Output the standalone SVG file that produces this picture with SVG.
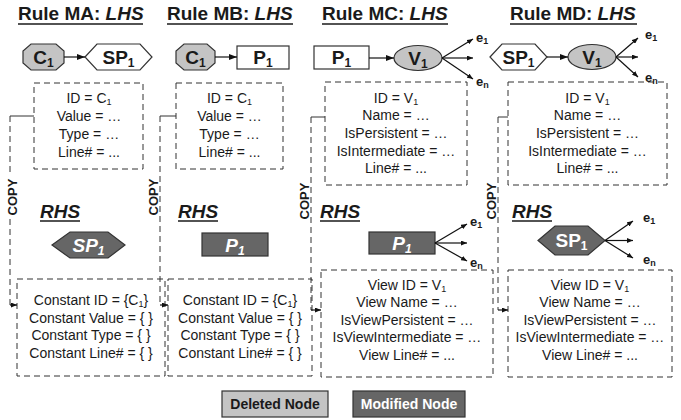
<svg xmlns="http://www.w3.org/2000/svg" width="681" height="420" viewBox="0 0 681 420">
  <style>
    text { font-family: "Liberation Sans", Arial, sans-serif; fill: #1a1a1a; }
    .title { font-size: 19px; font-weight: bold; }
    .rhs { font-size: 19px; font-weight: bold; font-style: italic; }
    .ul { stroke: #1a1a1a; stroke-width: 1.5; }
    .lbl { font-size: 19px; font-weight: bold; text-anchor: middle; }
    .lbl-w { font-size: 19px; font-weight: bold; text-anchor: middle; fill: #ffffff; }
    .attr { font-size: 14px; text-anchor: middle; }
    .edge-lbl { font-size: 13px; font-weight: bold; }
    .copy { font-size: 13px; font-weight: bold; text-anchor: middle; }
    .box { fill: none; stroke: #333; stroke-width: 1; stroke-dasharray: 6 4; }
    .deleted { fill: #c4c4c4; stroke: #333; stroke-width: 1.2; }
    .modified { fill: #666666; stroke: #333; stroke-width: 1.2; }
    .plain { fill: #ffffff; stroke: #333; stroke-width: 1.2; }
    .edge { fill: none; stroke: #111; stroke-width: 1.2; }
    .dash { fill: none; stroke: #333; stroke-width: 1; stroke-dasharray: 6 4; }
    .solid { fill: none; stroke: #333; stroke-width: 1; }
    .legend { font-size: 14px; font-weight: bold; text-anchor: middle; }
  </style>
  <defs>
    <marker id="ah" viewBox="0 0 8 6" refX="8" refY="3" markerWidth="8" markerHeight="6" orient="auto" markerUnits="userSpaceOnUse">
      <path d="M0,0 L8,3 L0,6 z" fill="#111"/>
    </marker>
    <marker id="ahs" viewBox="0 0 6 5" refX="6" refY="2.5" markerWidth="6" markerHeight="5" orient="auto" markerUnits="userSpaceOnUse">
      <path d="M0,0 L6,2.5 L0,5 z" fill="#111"/>
    </marker>
  </defs>

  <!-- Column headings -->
  <g id="headings">
    <text class="title" x="18" y="20">Rule MA: <tspan font-style="italic">LHS</tspan></text>
    <line class="ul" x1="18" y1="24" x2="143" y2="24"/>
    <text class="title" x="167" y="20">Rule MB: <tspan font-style="italic">LHS</tspan></text>
    <line class="ul" x1="167" y1="24" x2="293" y2="24"/>
    <text class="title" x="322" y="20">Rule MC: <tspan font-style="italic">LHS</tspan></text>
    <line class="ul" x1="322" y1="24" x2="448" y2="24"/>
    <text class="title" x="510" y="20">Rule MD: <tspan font-style="italic">LHS</tspan></text>
    <line class="ul" x1="510" y1="24" x2="637" y2="24"/>

    <text class="rhs" x="40" y="218">RHS</text>
    <line class="ul" x1="40" y1="221" x2="80" y2="221"/>
    <text class="rhs" x="178" y="218">RHS</text>
    <line class="ul" x1="178" y1="221" x2="218" y2="221"/>
    <text class="rhs" x="320" y="218">RHS</text>
    <line class="ul" x1="320" y1="221" x2="360" y2="221"/>
    <text class="rhs" x="512" y="218">RHS</text>
    <line class="ul" x1="512" y1="221" x2="552" y2="221"/>
  </g>

  <!-- Rule MA -->
  <g id="ma-c1">
    <polygon class="deleted" points="31,44 56,44 64,51 64,63 56,70 31,70 23,63 23,51"/>
    <text class="lbl" x="43.5" y="63.5">C<tspan font-size="12" dy="3">1</tspan></text>
  </g>
  <g id="ma-sp1">
    <polygon class="plain" points="85,57 97,44 140,44 152,57 140,70 97,70"/>
    <text class="lbl" x="118.5" y="63.5">SP<tspan font-size="12" dy="3">1</tspan></text>
  </g>
  <g id="ma-lhs-attrs">
    <rect class="box" x="34" y="83" width="109" height="86"/>
    <text class="attr" x="89" y="103">ID = C<tspan font-size="9" dy="2">1</tspan></text>
    <text class="attr" x="89" y="121">Value = …</text>
    <text class="attr" x="89" y="139">Type = …</text>
    <text class="attr" x="89" y="157">Line# = ...</text>
  </g>
  <g id="ma-rhs-sp1">
    <polygon class="modified" points="52,245 70,232 108,232 125,245 108,258 70,258"/>
    <text class="lbl-w" x="88.5" y="251.5" font-style="italic">SP<tspan font-size="12" dy="3">1</tspan></text>
  </g>
  <g id="ma-rhs-attrs">
    <rect class="box" x="17" y="279" width="148" height="97"/>
    <text class="attr" x="91" y="305">Constant ID = {C<tspan font-size="9" dy="2">1</tspan><tspan dy="-2">}</tspan></text>
    <text class="attr" x="91" y="323">Constant Value = { }</text>
    <text class="attr" x="91" y="340">Constant Type = { }</text>
    <text class="attr" x="91" y="358">Constant Line# = { }</text>
  </g>

  <!-- Rule MB -->
  <g id="mb-c1">
    <polygon class="deleted" points="184,44 207,44 215,51 215,63 207,70 184,70 176,63 176,51"/>
    <text class="lbl" x="195.5" y="63.5">C<tspan font-size="12" dy="3">1</tspan></text>
  </g>
  <g id="mb-p1">
    <rect class="plain" x="237" y="46" width="52" height="23"/>
    <text class="lbl" x="263" y="63.5">P<tspan font-size="12" dy="3">1</tspan></text>
  </g>
  <g id="mb-lhs-attrs">
    <rect class="box" x="176" y="83" width="107" height="86"/>
    <text class="attr" x="229.5" y="103">ID = C<tspan font-size="9" dy="2">1</tspan></text>
    <text class="attr" x="229.5" y="121">Value = …</text>
    <text class="attr" x="229.5" y="139">Type = …</text>
    <text class="attr" x="229.5" y="157">Line# = ...</text>
  </g>
  <g id="mb-rhs-p1">
    <rect class="modified" x="202" y="233" width="66" height="23"/>
    <text class="lbl-w" x="235" y="251.5" font-style="italic">P<tspan font-size="12" dy="3">1</tspan></text>
  </g>
  <g id="mb-rhs-attrs">
    <rect class="box" x="168" y="279" width="144" height="97"/>
    <text class="attr" x="240" y="305">Constant ID = {C<tspan font-size="9" dy="2">1</tspan><tspan dy="-2">}</tspan></text>
    <text class="attr" x="240" y="323">Constant Value = { }</text>
    <text class="attr" x="240" y="340">Constant Type = { }</text>
    <text class="attr" x="240" y="358">Constant Line# = { }</text>
  </g>

  <!-- Rule MC -->
  <g id="mc-p1">
    <rect class="plain" x="314" y="46" width="55" height="23"/>
    <text class="lbl" x="341.5" y="63.5">P<tspan font-size="12" dy="3">1</tspan></text>
  </g>
  <g id="mc-v1">
    <ellipse class="deleted" cx="418" cy="58" rx="24" ry="12.5"/>
    <text class="lbl" x="418" y="64.5">V<tspan font-size="12" dy="3">1</tspan></text>
  </g>
  <g id="mc-lhs-attrs">
    <rect class="box" x="325" y="82" width="142" height="103"/>
    <text class="attr" x="396" y="103">ID = V<tspan font-size="9" dy="2">1</tspan></text>
    <text class="attr" x="396" y="120">Name = …</text>
    <text class="attr" x="396" y="138">IsPersistent = …</text>
    <text class="attr" x="396" y="156">IsIntermediate = …</text>
    <text class="attr" x="396" y="173">Line# = ...</text>
  </g>
  <g id="mc-rhs-p1">
    <rect class="modified" x="369" y="232" width="66" height="22"/>
    <text class="lbl-w" x="402" y="249.5" font-style="italic">P<tspan font-size="12" dy="3">1</tspan></text>
  </g>
  <g id="mc-rhs-attrs">
    <rect class="box" x="321" y="270" width="172" height="107"/>
    <text class="attr" x="407" y="290">View ID = V<tspan font-size="9" dy="2">1</tspan></text>
    <text class="attr" x="407" y="307">View Name = …</text>
    <text class="attr" x="407" y="325">IsViewPersistent = …</text>
    <text class="attr" x="407" y="342">IsViewIntermediate = …</text>
    <text class="attr" x="407" y="360">View Line# = ...</text>
  </g>

  <!-- Rule MD -->
  <g id="md-sp1">
    <polygon class="plain" points="490,57 502,44 535,44 547,57 535,70 502,70"/>
    <text class="lbl" x="518.5" y="63.5">SP<tspan font-size="12" dy="3">1</tspan></text>
  </g>
  <g id="md-v1">
    <ellipse class="deleted" cx="592" cy="57" rx="24" ry="12.5"/>
    <text class="lbl" x="592" y="63.5">V<tspan font-size="12" dy="3">1</tspan></text>
  </g>
  <g id="md-lhs-attrs">
    <rect class="box" x="508" y="82" width="159" height="103"/>
    <text class="attr" x="587.5" y="103">ID = V<tspan font-size="9" dy="2">1</tspan></text>
    <text class="attr" x="587.5" y="120">Name = …</text>
    <text class="attr" x="587.5" y="138">IsPersistent = …</text>
    <text class="attr" x="587.5" y="156">IsIntermediate = …</text>
    <text class="attr" x="587.5" y="173">Line# = ...</text>
  </g>
  <g id="md-rhs-sp1">
    <polygon class="modified" points="538,240.5 555,226 588,226 605,240.5 588,255 555,255"/>
    <text class="lbl-w" x="571.5" y="247">SP<tspan font-size="12" dy="3">1</tspan></text>
  </g>
  <g id="md-rhs-attrs">
    <rect class="box" x="508" y="270" width="164" height="107"/>
    <text class="attr" x="590" y="290">View ID = V<tspan font-size="9" dy="2">1</tspan></text>
    <text class="attr" x="590" y="307">View Name = …</text>
    <text class="attr" x="590" y="325">IsViewPersistent = …</text>
    <text class="attr" x="590" y="342">IsViewIntermediate = …</text>
    <text class="attr" x="590" y="360">View Line# = ...</text>
  </g>

  <!-- Connectors -->
  <g id="connectors">
    <!-- LHS edges -->
    <line class="edge" x1="64" y1="57" x2="85" y2="57" marker-end="url(#ah)"/>
    <line class="edge" x1="215" y1="57" x2="237" y2="57" marker-end="url(#ah)"/>
    <line class="edge" x1="369" y1="58" x2="394" y2="58" marker-end="url(#ah)"/>
    <line class="edge" x1="442" y1="58" x2="473" y2="39" marker-end="url(#ahs)"/>
    <line class="edge" x1="442" y1="58" x2="473" y2="58" marker-end="url(#ahs)"/>
    <line class="edge" x1="442" y1="58" x2="473" y2="79" marker-end="url(#ahs)"/>
    <line class="edge" x1="547" y1="57" x2="568" y2="57" marker-end="url(#ah)"/>
    <line class="edge" x1="616" y1="57" x2="638" y2="38" marker-end="url(#ahs)"/>
    <line class="edge" x1="616" y1="57" x2="638" y2="57" marker-end="url(#ahs)"/>
    <line class="edge" x1="616" y1="57" x2="638" y2="77" marker-end="url(#ahs)"/>
    <!-- RHS edges -->
    <line class="edge" x1="435" y1="243" x2="467" y2="224" marker-end="url(#ahs)"/>
    <line class="edge" x1="435" y1="243" x2="467" y2="243" marker-end="url(#ahs)"/>
    <line class="edge" x1="435" y1="243" x2="467" y2="261" marker-end="url(#ahs)"/>
    <line class="edge" x1="605" y1="240.5" x2="633" y2="221" marker-end="url(#ahs)"/>
    <line class="edge" x1="605" y1="240.5" x2="633" y2="240.5" marker-end="url(#ahs)"/>
    <line class="edge" x1="605" y1="240.5" x2="633" y2="258" marker-end="url(#ahs)"/>
    <!-- COPY links -->
    <line class="solid" x1="34" y1="116" x2="10" y2="116"/>
    <line class="dash" x1="10" y1="116" x2="10" y2="176"/>
    <line class="dash" x1="10" y1="219" x2="10" y2="305"/>
    <line class="edge" x1="10" y1="305" x2="17" y2="305" stroke-width="1" marker-end="url(#ahs)"/>

    <line class="solid" x1="176" y1="116" x2="160" y2="116"/>
    <line class="dash" x1="160" y1="116" x2="160" y2="305"/>
    <line class="edge" x1="160" y1="305" x2="168" y2="305" stroke-width="1" marker-end="url(#ahs)"/>

    <line class="solid" x1="325" y1="117" x2="311" y2="117"/>
    <line class="dash" x1="311" y1="117" x2="311" y2="310"/>
    <line class="edge" x1="311" y1="310" x2="321" y2="310" stroke-width="1" marker-end="url(#ahs)"/>

    <line class="solid" x1="508" y1="117" x2="498" y2="117"/>
    <line class="dash" x1="498" y1="117" x2="498" y2="310"/>
    <line class="edge" x1="498" y1="310" x2="508" y2="310" stroke-width="1" marker-end="url(#ahs)"/>
  </g>

  <!-- Edge and link labels -->
  <g id="edge-labels">
    <text class="edge-lbl" x="476" y="42">e<tspan font-size="9" dy="2">1</tspan></text>
    <text class="edge-lbl" x="476" y="86">e<tspan font-size="9" dy="2">n</tspan></text>
    <text class="edge-lbl" x="645" y="39">e<tspan font-size="9" dy="2">1</tspan></text>
    <text class="edge-lbl" x="645" y="82">e<tspan font-size="9" dy="2">n</tspan></text>
    <text class="edge-lbl" x="470" y="226">e<tspan font-size="9" dy="2">1</tspan></text>
    <text class="edge-lbl" x="470" y="267">e<tspan font-size="9" dy="2">n</tspan></text>
    <text class="edge-lbl" x="643" y="222">e<tspan font-size="9" dy="2">1</tspan></text>
    <text class="edge-lbl" x="643" y="264">e<tspan font-size="9" dy="2">n</tspan></text>

    <text class="copy" transform="translate(17,197) rotate(-90)">COPY</text>
    <text class="copy" transform="translate(158,197) rotate(-90)">COPY</text>
    <text class="copy" transform="translate(309,201) rotate(-90)">COPY</text>
    <text class="copy" transform="translate(496,201) rotate(-90)">COPY</text>
  </g>

  <!-- Legend -->
  <g id="legend-deleted">
    <rect class="deleted" x="222" y="391" width="106" height="26"/>
    <text class="legend" x="275" y="409">Deleted Node</text>
  </g>
  <g id="legend-modified">
    <rect class="modified" x="353" y="391" width="112" height="26"/>
    <text class="legend" x="409" y="409" style="fill:#ffffff">Modified Node</text>
  </g>
</svg>
